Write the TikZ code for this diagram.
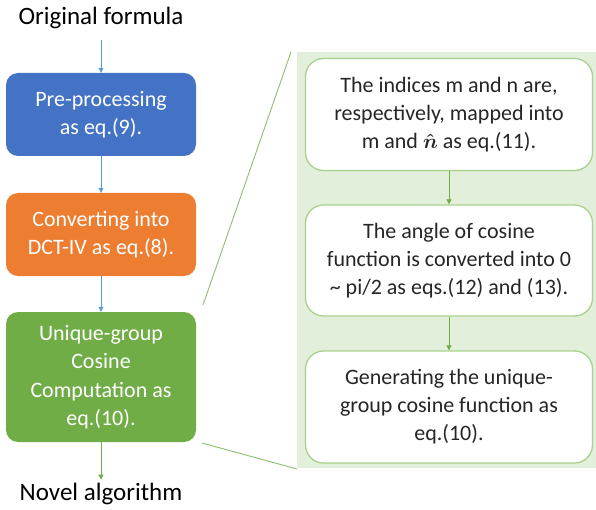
\documentclass[tikz,border=0pt]{standalone}
\usepackage{amsmath}
\usepackage{fontspec}
\setmainfont{Carlito}
\usetikzlibrary{arrows.meta}
\definecolor{cblue}{HTML}{4472C4}
\definecolor{corange}{HTML}{ED7D31}
\definecolor{cgreen}{HTML}{70AD47}
\definecolor{carrow}{HTML}{5B9BD5}
\definecolor{cpanel}{HTML}{E2EFDA}
\definecolor{cedge}{HTML}{A9D18E}
\definecolor{ctext}{HTML}{262626}
\begin{document}
\begin{tikzpicture}[x=1pt,y=-1pt,
  stage/.style={rounded corners=12pt, minimum width=190pt, align=center,
    text=white, font=\fontsize{22}{28.5}\selectfont, inner sep=0pt},
  detail/.style={draw=cedge, line width=1.3pt, fill=white, rounded corners=18pt,
    minimum width=287pt, align=center, text=ctext,
    font=\fontsize{22}{28}\selectfont, inner sep=0pt},
  title/.style={font=\fontsize{25}{30}\selectfont, text=black},
  flow/.style={-{Triangle[length=5pt,width=5pt]}, line width=0.8pt},
  zoomline/.style={draw=cgreen!80, line width=0.9pt}]
\useasboundingbox (0,0) rectangle (596,510);

% detail panel
\fill[cpanel] (297,52) rectangle (596,468);
\draw[zoomline] (203,305) -- (291,52);
\draw[zoomline] (202,443) -- (297,469);

% main flow
\node[title] (orig) at (101,18) {Original formula};
\node[stage, fill=cblue, minimum height=83pt] (pre) at (101,114.5) {Pre-processing\\as eq.(9).};
\node[stage, fill=corange, minimum height=83pt] (dct) at (101,234.5) {Converting into\\DCT-IV as eq.(8).};
\node[stage, fill=cgreen, minimum height=130pt] (ugc) at (101,377) {Unique-group\\Cosine\\Computation as\\eq.(10).};
\node[title] (novel) at (101,494) {Novel algorithm};

\draw[flow, carrow] (101,40) -- (pre.north);
\draw[flow, carrow] (pre.south) -- (dct.north);
\draw[flow, carrow] (dct.south) -- (ugc.north);
\draw[flow, cgreen] (ugc.south) -- (novel.north);

% detail steps
\node[detail, minimum height=112pt] (s1) at (449,114.5) {The indices m and n are,\\respectively, mapped into\\m and $\boldsymbol{\hat{n}}$ as eq.(11).};
\node[detail, minimum height=111pt] (s2) at (449,260.5) {The angle of cosine\\function is converted into 0\\\textasciitilde{} pi/2 as eqs.(12) and (13).};
\node[detail, minimum height=112pt] (s3) at (449,407) {Generating the unique-\\group cosine function as\\eq.(10).};

\draw[flow, cgreen] (s1.south) -- (s2.north);
\draw[flow, cgreen] (s2.south) -- (s3.north);
\end{tikzpicture}
\end{document}
